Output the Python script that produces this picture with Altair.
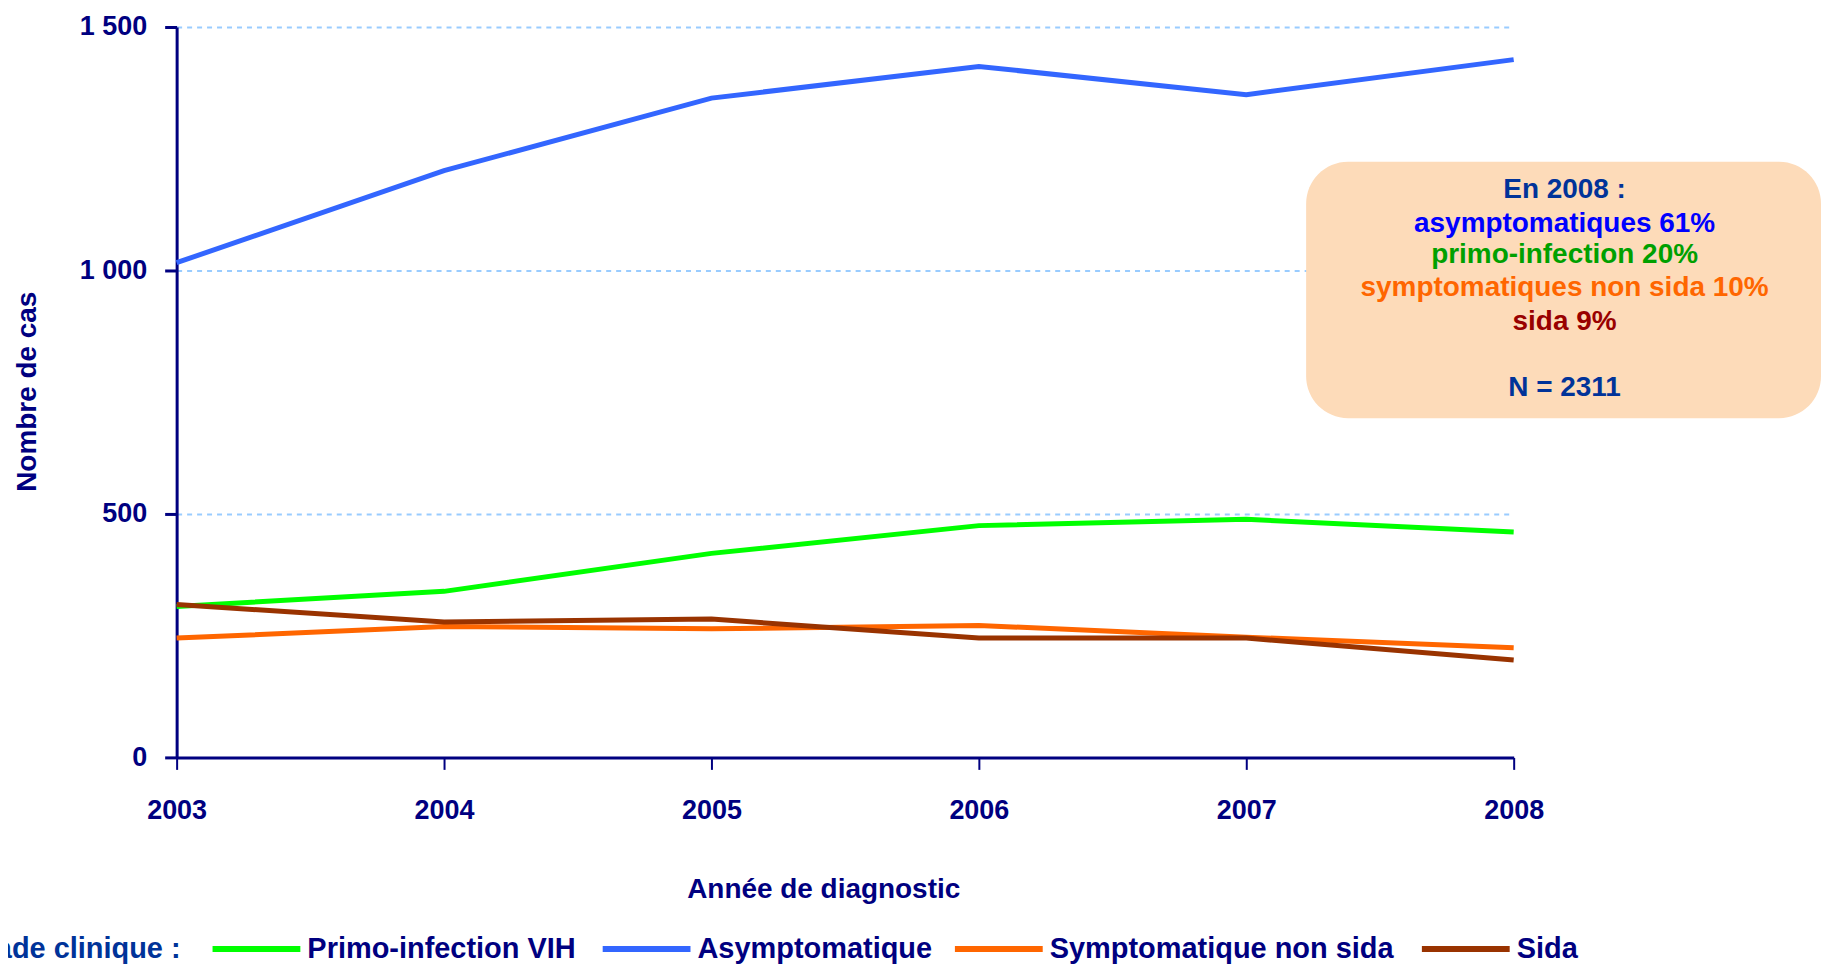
import altair as alt
import pandas as pd

# ---- data ----
years = [2003, 2004, 2005, 2006, 2007, 2008]
asympto = [1016, 1205, 1354, 1419, 1361, 1433]
primo = [310, 341, 419, 476, 489, 463]
sympto = [245, 269, 264, 271, 247, 225]
sida = [314, 278, 284, 245, 245, 200]

series_names = ["Asymptomatique", "Primo-infection VIH", "Symptomatique non sida", "Sida"]
series_values = [asympto, primo, sympto, sida]
series_colors = ["#3366FF", "#00FF00", "#FF6600", "#993300"]

legend_order = ["Primo-infection VIH", "Asymptomatique", "Symptomatique non sida", "Sida"]
legend_title = "Stade clinique :"

box_lines = ["En 2008 :", "asymptomatiques 61%", "primo-infection 20%",
             "symptomatiques non sida 10%", "sida 9%", "N = 2311"]
box_colors = ["#003399", "#0000FF", "#00A000", "#FF6600", "#990000", "#003399"]

y_ticks = [0, 500, 1000, 1500]

NAVY = "#000080"
FONT = "Liberation Sans"

rows = []
for name, vals in zip(series_names, series_values):
    for yr, v in zip(years, vals):
        rows.append({"annee": yr, "cas": v, "stade": name})
df = pd.DataFrame(rows)

W, H = 1340, 732

lines = alt.Chart(df).mark_line(strokeWidth=5, strokeCap="butt").encode(
    x=alt.X("annee:Q",
            scale=alt.Scale(domain=[years[0], years[-1]], nice=False, zero=False),
            axis=alt.Axis(values=years, format="d", grid=False,
                          domainColor=NAVY, domainWidth=3,
                          tickColor=NAVY, tickWidth=2, tickSize=12,
                          labelFont=FONT, labelFontWeight="bold", labelFontSize=27,
                          labelColor=NAVY, labelPadding=28, labelFlush=False,
                          title="Année de diagnostic", titleFont=FONT,
                          titleFontWeight="bold", titleFontSize=28, titleColor=NAVY,
                          titleX=648, titleY=132, titleAlign="center",
                          titleBaseline="middle")),
    y=alt.Y("cas:Q",
            scale=alt.Scale(domain=[0, 1500], nice=False),
            axis=alt.Axis(values=y_ticks,
                          labelExpr="replace(format(datum.value, ','), ',', ' ')",
                          grid=True, gridColor="#99CCFF", gridDash=[5, 5], gridWidth=2,
                          domainColor=NAVY, domainWidth=3,
                          tickColor=NAVY, tickWidth=3, tickSize=12,
                          labelFont=FONT, labelFontWeight="bold", labelFontSize=27,
                          labelColor=NAVY, labelPadding=18,
                          title="Nombre de cas", titleFont=FONT,
                          titleFontWeight="bold", titleFontSize=28, titleColor=NAVY,
                          titleX=-149, titleY=365, titleAngle=-90,
                          titleAlign="center", titleBaseline="middle")),
    color=alt.Color("stade:N",
                    scale=alt.Scale(domain=series_names, range=series_colors),
                    legend=None),
    detail="stade:N",
)

one = pd.DataFrame({"a": [0]})
layers = [lines]

# annotation box
box = alt.Chart(one).mark_rect(fill="#FDDBB9", cornerRadius=42).encode(
    x=alt.value(1132), x2=alt.value(1648), y=alt.value(135), y2=alt.value(392))
layers.append(box)
box_y = [163, 197, 229, 262, 296, 362]
for txt, col, yy in zip(box_lines, box_colors, box_y):
    layers.append(alt.Chart(one).mark_text(
        font=FONT, fontWeight="bold", fontSize=28, color=col,
        align="center", baseline="middle").encode(
        x=alt.value(1391), y=alt.value(yy), text=alt.value(txt)))

# manual legend
LY = 924
layers.append(alt.Chart(one).mark_text(
    font=FONT, fontWeight="bold", fontSize=29, color="#003399",
    align="right", baseline="middle").encode(
    x=alt.value(4), y=alt.value(LY), text=alt.value(legend_title)))
leg_x = [36, 427, 780, 1248]
color_of = dict(zip(series_names, series_colors))
for name, lx in zip(legend_order, leg_x):
    layers.append(alt.Chart(one).mark_rule(strokeWidth=6, color=color_of[name]).encode(
        x=alt.value(lx), x2=alt.value(lx + 88), y=alt.value(LY)))
    layers.append(alt.Chart(one).mark_text(
        font=FONT, fontWeight="bold", fontSize=29, color=NAVY,
        align="left", baseline="middle").encode(
        x=alt.value(lx + 95), y=alt.value(LY), text=alt.value(name)))

chart = alt.layer(*layers).properties(
    width=W, height=H,
    autosize=alt.AutoSizeParams(type="none"),
    padding={"left": 169, "top": 18, "right": 308, "bottom": 210},
).configure_view(stroke=None)

chart.save("out.html", embed_options={"renderer": "svg", "actions": False})
